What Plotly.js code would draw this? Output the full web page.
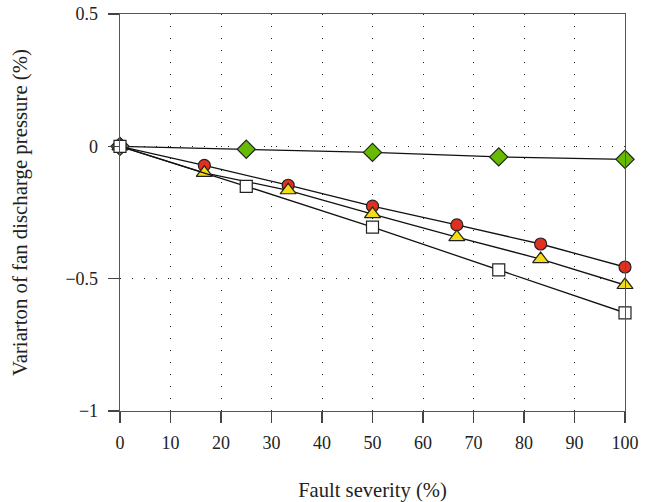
<!DOCTYPE html>
<html>
<head>
<meta charset="utf-8">
<script src="https://cdn.plot.ly/plotly-3.0.1.min.js"></script>
<style>html,body{margin:0;padding:0;background:#fff;}#chart{width:654px;height:502px;}</style>
</head>
<body>
<div id="chart"></div>
<script>
// Data
const greenX = [0, 25, 50, 75, 100];
const greenY = [0, -0.011, -0.023, -0.04, -0.049];
const redX = [0, 16.7, 33.3, 50, 66.7, 83.3, 100];
const redY = [0, -0.072, -0.147, -0.226, -0.297, -0.369, -0.456];
const yellowX = [0, 16.7, 33.3, 50, 66.7, 83.3, 100];
const yellowY = [0, -0.10, -0.166, -0.256, -0.343, -0.426, -0.524];
const whiteX = [0, 25, 50, 75, 100];
const whiteY = [0, -0.151, -0.305, -0.467, -0.629];

const xTickVals = [0, 10, 20, 30, 40, 50, 60, 70, 80, 90, 100];
const yTickVals = [0.5, 0, -0.5, -1];
const yTickText = ['0.5', '0', '\u22120.5', '\u22121'];

const xTitle = 'Fault severity (%)';
const yTitle = 'Variarton of fan discharge pressure (%)';

function series(x, y, symbol, color, size) {
  return {
    x: x, y: y, type: 'scatter', mode: 'lines+markers',
    line: {color: '#111', width: 1.3},
    marker: {symbol: symbol, color: color, size: size, line: {color: '#222', width: 1.2}},
    cliponaxis: false, showlegend: false, hoverinfo: 'skip'
  };
}

const data = [
  series(greenX, greenY, 'diamond', '#66bb00', 14),
  series(redX, redY, 'circle', '#e03020', 12),
  series(yellowX, yellowY, 'triangle-up', '#f5dc14', 14),
  series(whiteX, whiteY, 'square', '#ffffff', 12)
];

const font = {family: '"Liberation Serif", "Times New Roman", serif', size: 18, color: '#222'};

const layout = {
  width: 654, height: 502,
  margin: {l: 120, r: 29, t: 14, b: 91},
  paper_bgcolor: '#fff', plot_bgcolor: '#fff',
  font: font,
  xaxis: {
    range: [0, 100], tickvals: xTickVals,
    ticks: 'outside', ticklen: 11, tickwidth: 1.2, tickcolor: '#444',
    showline: true, linecolor: '#555', linewidth: 1.3, mirror: true,
    showgrid: true, gridcolor: '#222', gridwidth: 1, griddash: '1px,11px',
    zeroline: false,
    tickfont: {family: font.family, size: 18, color: '#222'},
    ticklabelstandoff: 4,
    title: {text: xTitle, font: {family: font.family, size: 20.6, color: '#222'}, standoff: 30}
  },
  yaxis: {
    range: [-1, 0.5], tickvals: yTickVals, ticktext: yTickText,
    ticks: 'outside', ticklen: 11, tickwidth: 1.2, tickcolor: '#444',
    showline: true, linecolor: '#555', linewidth: 1.3, mirror: true,
    showgrid: true, gridcolor: '#222', gridwidth: 1, griddash: '1px,11px',
    zeroline: false,
    tickfont: {family: font.family, size: 18, color: '#222'},
    ticklabelstandoff: 6,
    title: {text: yTitle, font: {family: font.family, size: 20.8, color: '#222'}, standoff: 32}
  }
};

Plotly.newPlot('chart', data, layout, {displayModeBar: false, staticPlot: true});
</script>
</body>
</html>
